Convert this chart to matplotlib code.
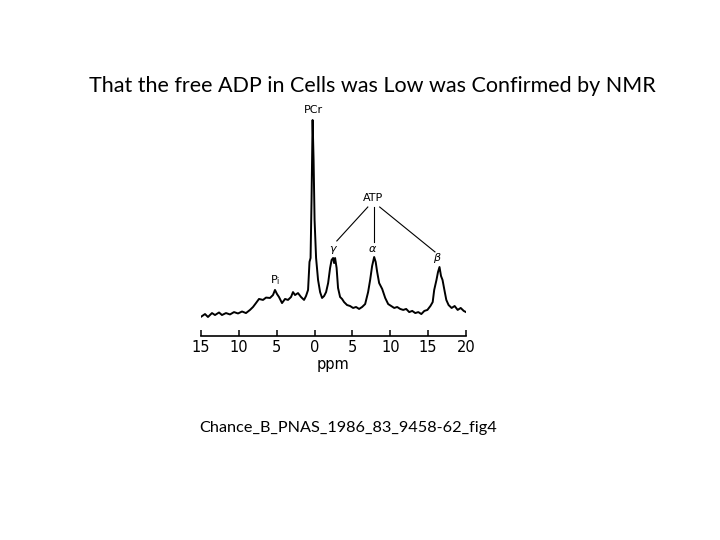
#!/usr/bin/python
import matplotlib
matplotlib.use('Agg')
import matplotlib.pyplot as plt

# 31P NMR spectrum (chemical shift in ppm, intensity, PCr = 100)
ppm = [15.0, 14.47, 14.08, 13.55, 13.15, 12.62, 12.23, 11.70, 11.17, 10.64,
       10.11, 9.58, 9.06, 8.53, 8.13, 7.74, 7.34, 6.81, 6.41, 5.89,
       5.49, 5.23, 4.96, 4.70, 4.30, 3.90, 3.51, 3.11, 2.85, 2.58,
       2.19, 1.79, 1.39, 1.13, 0.86, 0.67, 0.53, 0.40, 0.26, 0.13,
       0.0, -0.2, -0.46, -0.73, -0.99, -1.26, -1.52, -1.79, -2.05, -2.25,
       -2.45, -2.58, -2.71, -2.91, -3.10, -3.37, -3.63, -3.90, -4.29, -4.69,
       -5.09, -5.48, -5.88, -6.28, -6.68, -7.07, -7.34, -7.60, -7.87, -8.07,
       -8.27, -8.53, -8.93, -9.33, -9.72, -10.12, -10.52, -10.91, -11.31, -11.71,
       -12.1, -12.5, -12.9, -13.3, -13.7, -14.1, -14.5, -14.9, -15.3, -15.6,
       -15.8, -16.1, -16.3, -16.5, -16.7, -16.9, -17.2, -17.4, -17.7, -18.1,
       -18.5, -18.9, -19.3, -19.7, -20.0]
intensity = [-0.4, 1.0, -0.5, 1.5, 0.5, 1.8, 0.5, 1.5, 0.8, 2.0,
             1.3, 2.3, 1.5, 3.1, 4.6, 6.6, 8.7, 8.2, 9.4, 9.2,
             10.7, 13.3, 11.2, 9.7, 6.6, 8.7, 8.2, 9.7, 12.2, 10.7,
             11.7, 9.7, 8.2, 10.2, 13.3, 27.6, 29.6, 59.2, 100.0, 79.6,
             49.0, 29.6, 18.4, 12.2, 9.2, 10.2, 12.2, 16.8, 24.5, 28.6,
             29.6, 27.0, 29.6, 24.5, 14.3, 9.7, 8.7, 7.1, 5.6, 5.1,
             4.1, 4.6, 3.6, 4.6, 6.1, 12.2, 18.4, 25.5, 30.1, 27.6,
             22.4, 16.8, 13.8, 9.2, 6.1, 5.1, 4.1, 4.6, 3.6, 3.1,
             3.6, 2.0, 2.6, 1.5, 2.0, 1.0, 2.6, 3.1, 5.1, 7.1,
             13.3, 18.4, 22.4, 25.0, 20.4, 18.4, 12.2, 8.2, 5.6, 4.1,
             5.1, 3.1, 4.1, 2.6, 2.0]

tickPos = [15, 10, 5, 0, -5, -10, -15, -20]
tickLabels = ['15', '10', '5', '0', '5', '10', '15', '20']

titleText = 'That the free ADP in Cells was Low was Confirmed by NMR'
captionText = 'Chance_B_PNAS_1986_83_9458-62_fig4'


def main():
    fig = plt.figure(figsize=(7.2, 5.4), dpi=100)
    fig.patch.set_facecolor('white')

    fig.text(372/720, 1 - 86/540, titleText, ha='center', va='center',
             fontsize=15.5, family='Lato', color='black')
    fig.text(199/720, 1 - 428/540, captionText, ha='left', va='center',
             fontsize=11.7, family='Lato', color='black')

    ax = fig.add_axes([201/720, 204/540, 265/720, 236/540])
    ax.plot(ppm, intensity, color='black', lw=1.4)
    ax.set_xlim(15, -20)
    ax.set_ylim(-10.2, 110.2)
    for s in ['top', 'left', 'right']:
        ax.spines[s].set_visible(False)
    ax.spines['bottom'].set_linewidth(1.2)
    ax.set_yticks([])
    ax.set_xticks(tickPos)
    ax.set_xticklabels(tickLabels, family='DejaVu Sans', fontsize=10.5)
    ax.tick_params(axis='x', direction='in', length=4, width=1.1, pad=3)
    ax.set_xlabel('ppm', family='DejaVu Sans', fontsize=10.5, labelpad=1)
    ax.patch.set_alpha(0)

    fs = 8
    ax.text(0.2, 105, 'PCr', ha='center', va='center', fontsize=fs)
    ax.text(-7.7, 60.2, 'ATP', ha='center', va='center', fontsize=fs)
    ax.text(-2.5, 33.7, r'$\gamma$', ha='center', va='center', fontsize=fs)
    ax.text(-7.7, 34.2, r'$\alpha$', ha='center', va='center', fontsize=fs)
    ax.text(-16.2, 29.6, r'$\beta$', ha='center', va='center', fontsize=fs)
    ax.text(5.2, 18.4, r'P$_{\rm i}$', ha='center', va='center', fontsize=fs)
    ax.plot([-7.03, -2.94], [55.6, 38.3], color='black', lw=0.8)
    ax.plot([-7.82, -7.82], [55.6, 37.8], color='black', lw=0.8)
    ax.plot([-8.6, -15.9], [55.6, 32.7], color='black', lw=0.8)

    fig.savefig('out.png', dpi=100)


if __name__ == '__main__':
    main()
